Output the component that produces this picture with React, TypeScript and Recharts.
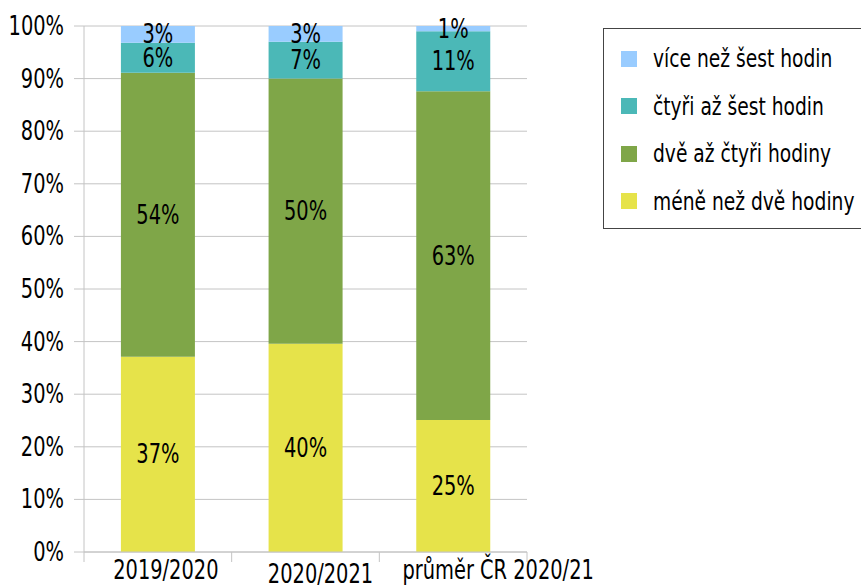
import React from "react";
import { BarChart, Bar, XAxis, YAxis, CartesianGrid, Legend, LabelList } from "recharts";

const categories = ["2019/2020", "2020/2021", "průměr ČR 2020/21"];
const lessThanTwo = [37.1, 39.6, 25.1];
const twoToFour = [54.0, 50.4, 62.5];
const fourToSix = [5.7, 7.0, 11.4];
const moreThanSix = [3.2, 3.0, 1.0];
const yTicks = [0, 10, 20, 30, 40, 50, 60, 70, 80, 90, 100];

const seriesNames = {
  a: "méně než dvě hodiny",
  b: "dvě až čtyři hodiny",
  c: "čtyři až šest hodin",
  d: "více než šest hodin",
};
const colors = { a: "#E6E34A", b: "#7FA648", c: "#4BB8B7", d: "#99CCFF" };

const data = categories.map((name, i) => ({
  name,
  a: lessThanTwo[i],
  b: twoToFour[i],
  c: fourToSix[i],
  d: moreThanSix[i],
}));

const FONT = "'DejaVu Sans Condensed', 'DejaVu Sans', sans-serif";
const GRID = "#c4c4c4";
const SX = 0.83;
const xLabelDx = [8, 15, 45];
const xLabelDy = [27, 31, 27];

const NarrowText = ({ x, y, anchor, size, children }: any) => (
  <text
    transform={`translate(${x},${y}) scale(${SX},1)`}
    x={0}
    y={0}
    textAnchor={anchor}
    fill="#000"
    fontFamily={FONT}
    fontSize={size}
  >
    {children}
  </text>
);

const XTick = (props: any) => {
  const { x, y, payload, index, visibleTicksCount } = props;
  const half = payload && payload.offset ? payload.offset : 74;
  const isLast = index === (visibleTicksCount ?? 3) - 1;
  return (
    <g>
      <line x1={x - half} x2={x - half} y1={y} y2={y + 10} stroke={GRID} />
      {isLast && <line x1={x + half} x2={x + half} y1={y} y2={y + 10} stroke={GRID} />}
      <NarrowText x={x + (xLabelDx[index] ?? 0)} y={y + (xLabelDy[index] ?? 27)} anchor="middle" size={26}>
        {payload.value}
      </NarrowText>
    </g>
  );
};

const YTick = (props: any) => {
  const { x, y, payload } = props;
  return (
    <NarrowText x={x} y={y + 9} anchor="end" size={26}>
      {`${payload.value}%`}
    </NarrowText>
  );
};

const BarLabel = (props: any) => {
  const { x, y, width, height, value } = props;
  return (
    <NarrowText x={x + width / 2} y={y + height / 2 + 9} anchor="middle" size={26}>
      {`${Math.round(Number(value))}%`}
    </NarrowText>
  );
};

const legendOrder: ("d" | "c" | "b" | "a")[] = ["d", "c", "b", "a"];

const LegendContent = () => (
  <div
    style={{
      width: "100%",
      height: "100%",
      boxSizing: "border-box",
      border: "1px solid #444",
      background: "#fff",
      fontFamily: FONT,
      fontSize: 25,
      color: "#000",
      paddingTop: 6,
    }}
  >
    {legendOrder.map((k) => (
      <div key={k} style={{ display: "flex", alignItems: "center", height: 47.5, marginLeft: 17 }}>
        <span
          style={{ display: "inline-block", width: 16, height: 16, background: colors[k], marginRight: 16, flexShrink: 0 }}
        />
        <span
          style={{
            whiteSpace: "nowrap",
            display: "inline-block",
            transform: `scaleX(${SX})`,
            transformOrigin: "left center",
          }}
        >
          {seriesNames[k]}
        </span>
      </div>
    ))}
  </div>
);

export default function App() {
  return (
    <div style={{ position: "absolute", left: 0, top: 0, width: 861, height: 585, background: "#fff", overflow: "hidden" }}>
      <BarChart
        width={861}
        height={585}
        data={data}
        margin={{ top: 26, right: 334, bottom: 0, left: 0 }}
        barCategoryGap="25%"
      >
        <CartesianGrid vertical={false} stroke={GRID} />
        <XAxis
          dataKey="name"
          tickLine={false}
          tickSize={0}
          tickMargin={0}
          axisLine={{ stroke: GRID }}
          tick={<XTick />}
          interval={0}
          height={33}
        />
        <YAxis
          domain={[0, 100]}
          ticks={yTicks}
          interval={0}
          width={84}
          tickSize={10}
          tickMargin={10}
          tick={<YTick />}
          tickLine={{ stroke: GRID }}
          axisLine={{ stroke: GRID }}
        />
        <YAxis
          yAxisId="right"
          orientation="right"
          domain={[0, 100]}
          width={0}
          tick={false}
          tickLine={false}
          axisLine={{ stroke: GRID }}
        />
        <Legend
          layout="vertical"
          align="center"
          verticalAlign="middle"
          content={<LegendContent />}
          wrapperStyle={{ left: 603, top: 28, width: 275, height: 201, bottom: "auto", right: "auto" }}
        />
        {(["a", "b", "c", "d"] as const).map((k) => (
          <Bar key={k} dataKey={k} stackId="s" fill={colors[k]} name={seriesNames[k]} isAnimationActive={false}>
            <LabelList dataKey={k} content={<BarLabel />} />
          </Bar>
        ))}
      </BarChart>
    </div>
  );
}
